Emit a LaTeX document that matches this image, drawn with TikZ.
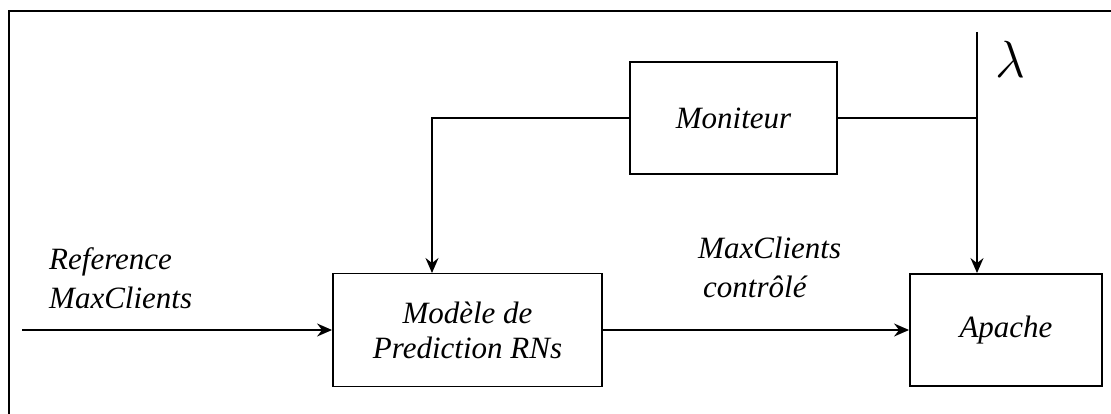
\documentclass[tikz,border=0pt]{standalone}
\usepackage{fontspec}
\setmainfont{Liberation Serif}[ItalicFont={Liberation Serif Italic}]
\usetikzlibrary{arrows.meta}
\begin{document}
\begin{tikzpicture}[x=1pt,y=-1pt,
  blk/.style={draw, line width=1.9pt, inner sep=0pt, align=center,
    font=\fontsize{31}{35}\selectfont\itshape},
  lbl/.style={font=\fontsize{31}{39}\selectfont\itshape, inner sep=0pt, align=left},
  conn/.style={line width=1.6pt},
  arr/.style={conn, -{Stealth[length=15pt,width=13pt,inset=5pt]}}]
\useasboundingbox (0,0) rectangle (1111,414);
% frame
\draw[line width=2.2pt] (9,414) -- (9,11) -- (1111,11);
% blocks
\node[blk, minimum width=269pt, minimum height=113pt] (pred) at (467.5,330) {Modèle de\\Prediction RNs};
\node[blk, minimum width=207pt, minimum height=112pt] (mon) at (733.5,118) {Moniteur};
\node[blk, minimum width=192pt, minimum height=112pt] (apache) at (1006,330) {Apache};
% labels
\node[lbl, anchor=base west] (lref) at (49,308) {Reference\\MaxClients};
\node[lbl, anchor=base west] (lctl) at (698,297) {MaxClients\\\hspace*{5pt}contrôlé};
\node[inner sep=0pt] (lam) at (1010,59) {\scalebox{2.1}{\fontsize{24.88}{25}\selectfont$\lambda$}};
% connectors
\coordinate (in) at (22,330);
\coordinate (fb) at (432,273);
\coordinate (lamtop) at (977,32);
\draw[arr] (in) -- (pred.west);
\draw[arr] (pred.east) -- (apache.west);
\draw[arr] (mon.west) -| (fb);
\draw[arr] (lamtop) -- (lamtop |- apache.north);
\draw[conn] (mon.east) -- (mon.east -| lamtop);
\end{tikzpicture}
\end{document}
